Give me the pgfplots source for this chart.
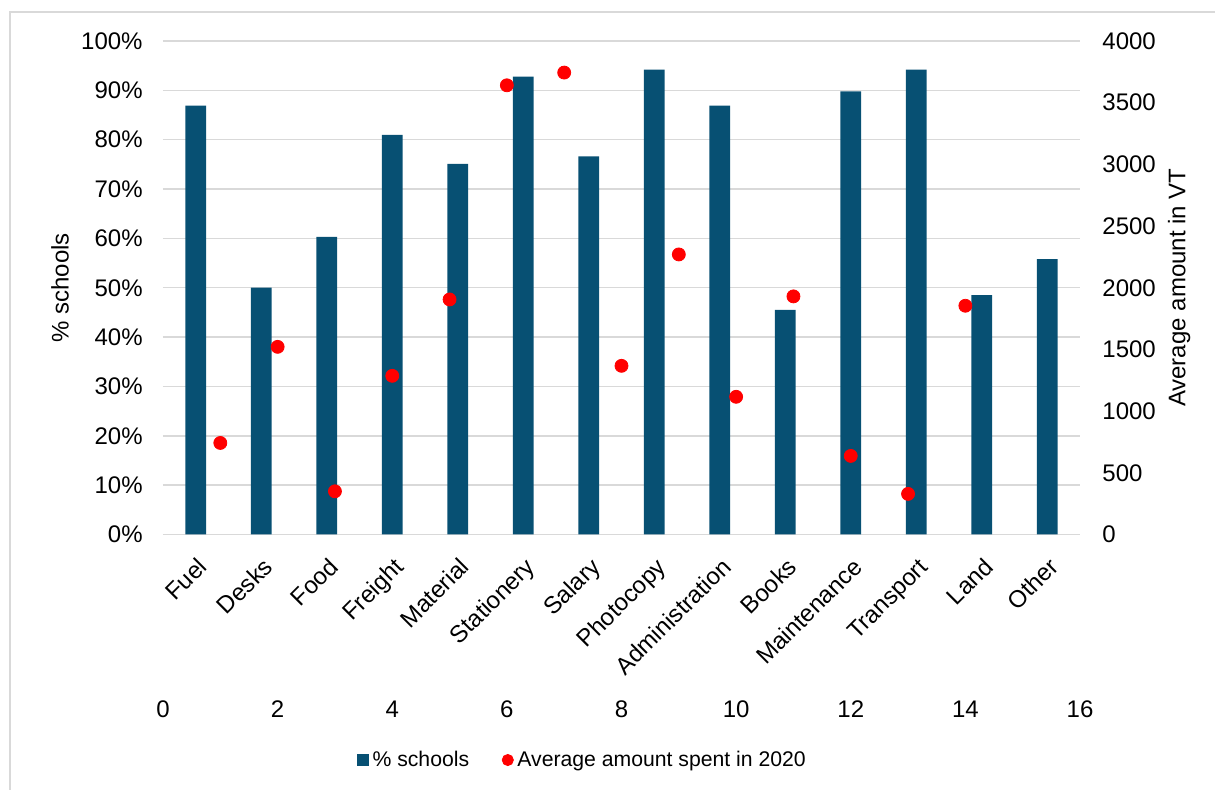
\documentclass[border=0pt]{standalone}
\usepackage{fontspec}
\setmainfont{Liberation Sans}
\usepackage{pgfplots}
\pgfplotsset{compat=1.18}
\definecolor{barblue}{RGB}{7,80,115}
\definecolor{gridgray}{RGB}{217,217,217}
\definecolor{dotred}{RGB}{255,0,0}
% legend symbol: a single mark, no line segment around it
\pgfplotsset{pointlegend/.style={legend image code/.code={\draw[##1] plot coordinates {(0pt,0pt)};}}}

\begin{document}
\begin{tikzpicture}
\useasboundingbox (-81.5pt,-127.75pt) rectangle (526pt,267.25pt);
% chart area frame
\draw[gridgray, line width=0.75pt] (-76.5pt,-127.75pt) -- (-76.5pt,261.25pt) -- (526pt,261.25pt);

\pgfplotsset{
  common/.style={
    scale only axis, width=458.5pt, height=246.75pt,
    at={(0,0)}, anchor=south west,
    font=\fontsize{12}{14.4}\selectfont,
    tick style={draw=none}, major tick length=0pt,
    ymin=0,
  }
}

% primary axes: share of schools (bars)
\begin{axis}[common,
  xmin=0, xmax=14, ymax=100,
  axis x line*=bottom, axis y line*=left,
  x axis line style={draw=gridgray, line width=0.75pt, -},
  y axis line style={draw=none},
  ytick={0,10,20,30,40,50,60,70,80,90,100},
  yticklabels={0\%,10\%,20\%,30\%,40\%,50\%,60\%,70\%,80\%,90\%,100\%},
  ymajorgrids, grid style={gridgray, line width=0.75pt},
  xtick={0.64,1.64,2.64,3.64,4.64,5.64,6.64,7.64,8.64,9.64,10.64,11.64,12.64,13.64},
  xticklabels={Fuel,Desks,Food,Freight,Material,Stationery,Salary,Photocopy,Administration,Books,Maintenance,Transport,Land,Other},
  xticklabel style={rotate=45, anchor=east, inner sep=0pt, text height=0.75em, text depth=0.2em},
  xticklabel shift=15pt,
  yticklabel style={anchor=east, inner sep=0pt},
  yticklabel shift=10pt,
  every axis y label/.style={at={(axis description cs:-0.1123,0.5)}, rotate=90, anchor=center},
  ylabel={\% schools},
]
\addplot[ybar, bar width=10.3pt, fill=barblue, draw=none] coordinates {
  (0.5,86.9) (1.5,50.0) (2.5,60.3) (3.5,81.0) (4.5,75.1) (5.5,92.8) (6.5,76.6)
  (7.5,94.2) (8.5,86.9) (9.5,45.5) (10.5,89.8) (11.5,94.2) (12.5,48.5) (13.5,55.8)
};
\end{axis}

% secondary axes: average amount (dots)
\begin{axis}[common,
  xmin=0, xmax=16, ymax=4000,
  axis y line*=right, axis x line*=bottom,
  x axis line style={draw=none}, y axis line style={draw=none},
  xtick={0,2,4,6,8,10,12,14,16},
  ytick={0,500,1000,1500,2000,2500,3000,3500,4000},
  /pgf/number format/assume math mode=true,
  /pgf/number format/1000 sep={},
  xticklabel style={anchor=north, inner sep=0pt},
  xticklabel shift=83pt,
  yticklabel style={anchor=west, inner sep=0pt},
  yticklabel shift=11pt,
  every axis y label/.style={at={(axis description cs:1.108,0.5)}, rotate=90, anchor=center},
  ylabel={Average amount in VT},
  legend image post style={mark size=2.8pt},
  legend style={at={(axis description cs:0.457,-0.457)}, anchor=center, draw=none,
    inner sep=0pt, legend columns=2, font=\fontsize{10.6}{12}\selectfont,
    nodes={inner sep=0.5pt},
    /tikz/every odd column/.append style={column sep=1.5pt},
    /tikz/every even column/.append style={column sep=16pt}},
]
\addlegendimage{only marks, mark=square*, mark options={fill=barblue, draw=barblue}, pointlegend}
\addlegendentry{\% schools}
\addplot[only marks, mark=*, mark size=3.25pt, mark options={fill=dotred, draw=dotred}, pointlegend] coordinates {
  (1,742) (2,1521) (3,350) (4,1286) (5,1905) (6,3641) (7,3744)
  (8,1367) (9,2270) (10,1116) (11,1930) (12,637) (13,329) (14,1854)
};
\addlegendentry{Average amount spent in 2020}
\end{axis}
\end{tikzpicture}
\end{document}
